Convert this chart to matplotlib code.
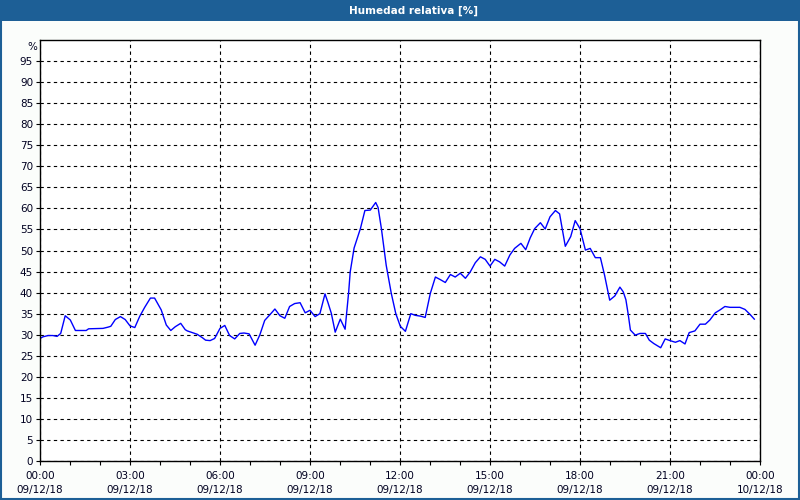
import matplotlib
matplotlib.use('Agg')
import matplotlib.pyplot as plt
from matplotlib.patches import Rectangle
from matplotlib.ticker import MultipleLocator
import matplotlib.transforms as mtransforms

# Hours since 09/12/18 00:00 and relative humidity
hours = [0.0, 0.1, 0.27, 0.43, 0.57, 0.69, 0.84, 1.01, 1.18, 1.54, 1.62, 2.1, 2.27, 2.36,
         2.51, 2.68, 2.84, 3.0, 3.16, 3.32, 3.49, 3.68, 3.82, 4.04, 4.21, 4.36, 4.51, 4.69,
         4.84, 4.91, 5.08, 5.24, 5.41, 5.52, 5.67, 5.82, 6.0, 6.16, 6.32, 6.49, 6.66, 6.8,
         6.97, 7.17, 7.33, 7.49, 7.67, 7.83, 8.0, 8.16, 8.32, 8.49, 8.67, 8.84, 9.0, 9.17,
         9.33, 9.5, 9.6, 9.71, 9.84, 10.01, 10.17, 10.29, 10.34, 10.47, 10.68, 10.83, 11.01,
         11.19, 11.27, 11.38, 11.54, 11.71, 11.86, 12.01, 12.18, 12.36, 12.51, 12.69, 12.84,
         13.01, 13.18, 13.34, 13.51, 13.68, 13.84, 14.01, 14.18, 14.34, 14.51, 14.68, 14.84,
         15.0, 15.16, 15.32, 15.49, 15.66, 15.82, 16.03, 16.19, 16.34, 16.49, 16.68, 16.84,
         17.0, 17.18, 17.32, 17.51, 17.69, 17.84, 18.0, 18.18, 18.34, 18.51, 18.68, 18.82,
         18.99, 19.16, 19.33, 19.44, 19.53, 19.61, 19.68, 19.84, 20.0, 20.18, 20.31, 20.46,
         20.64, 20.69, 20.84, 21.0, 21.18, 21.33, 21.5, 21.64, 21.83, 22.0, 22.18, 22.33,
         22.51, 22.67, 22.83, 23.0, 23.17, 23.33, 23.5, 23.67, 23.81]
humidity = [29.1, 29.5, 29.8, 29.8, 29.6, 30.3, 34.5, 33.5, 31.0, 31.0, 31.4, 31.5, 31.8, 32.0,
            33.6, 34.3, 33.6, 32.1, 31.7, 34.3, 36.5, 38.7, 38.7, 35.9, 32.3, 31.0, 31.9, 32.7,
            31.2, 30.9, 30.5, 30.1, 29.3, 28.7, 28.6, 29.1, 31.5, 32.2, 29.8, 29.0, 30.3, 30.4,
            30.2, 27.5, 30.0, 33.4, 34.8, 36.1, 34.5, 33.9, 36.7, 37.4, 37.6, 35.2, 35.8, 34.3,
            35.0, 39.7, 37.6, 35.1, 30.6, 33.7, 31.3, 40.2, 44.9, 50.6, 55.2, 59.5, 59.6,
            61.4, 60.2, 55.2, 46.5, 39.8, 35.0, 32.0, 30.8, 35.0, 34.6, 34.4, 34.1,
            39.8, 43.7, 43.1, 42.4, 44.3, 43.7, 44.6, 43.4, 44.9, 47.1, 48.5, 47.9,
            46.3, 47.9, 47.3, 46.3, 48.9, 50.5, 51.7, 50.2, 53.0, 55.2, 56.6, 55.1,
            58.0, 59.5, 58.7, 51.0, 53.3, 57.1, 55.2, 50.1, 50.5, 48.3, 48.3, 44.1,
            38.2, 39.2, 41.3, 40.2, 38.3, 34.7, 31.1, 29.9, 30.3, 30.3, 28.7, 27.9,
            27.1, 26.9, 29.0, 28.6, 28.2, 28.6, 27.8, 30.5, 30.9, 32.5, 32.5, 33.5,
            35.2, 35.9, 36.7, 36.5, 36.5, 36.5, 36.0, 34.8, 33.7]

tick_hours = [0, 3, 6, 9, 12, 15, 18, 21, 24]
tick_labels = ['00:00\n09/12/18', '03:00\n09/12/18', '06:00\n09/12/18', '09:00\n09/12/18',
               '12:00\n09/12/18', '15:00\n09/12/18', '18:00\n09/12/18', '21:00\n09/12/18',
               '00:00\n10/12/18']

title_blue = '#1d5f96'

fig = plt.figure(figsize=(8, 5), dpi=100, facecolor='#fbfdfb')
ax = fig.add_axes([40 / 800, 39 / 500, 720 / 800, 421 / 500])

# Title bar and outer frame
fig.patches.append(Rectangle((0, 1 - 21 / 500), 1, 21 / 500, transform=fig.transFigure,
                             facecolor=title_blue, edgecolor='none', zorder=0))
fig.patches.append(Rectangle((0.001, 0.002), 0.998, 0.997, transform=fig.transFigure,
                             facecolor='none', edgecolor=title_blue, linewidth=1.5, zorder=0))
fig.text(414 / 800, 1 - 10.5 / 500, 'Humedad relativa [%]', color='white', fontsize=7.5,
         fontweight='bold', ha='center', va='center')

ax.plot(hours, humidity, color='#0000ff', linewidth=1.0)

ax.set_xlim(0, 24)
ax.set_ylim(0, 100)
ax.set_xticks(tick_hours)
ax.set_xticklabels(tick_labels, linespacing=1.5)
ax.xaxis.set_minor_locator(MultipleLocator(1))
ax.set_yticks(range(0, 100, 5))
ax.tick_params(axis='both', which='both', labelsize=7.5, length=3, width=0.8, color='black',
               labelcolor='#000020', pad=2)
ax.tick_params(axis='x', pad=4)

ax.grid(True, which='major', color='black', linestyle=(0, (3, 3)), linewidth=0.8)
ax.set_axisbelow(True)
for spine in ax.spines.values():
    spine.set_linewidth(1.0)
    spine.set_color('black')

# Unit label above the y tick labels
trans = mtransforms.blended_transform_factory(ax.transAxes, ax.transData)
ax.text(-0.004, 98.4, '%', transform=trans, ha='right', va='center', fontsize=7.5,
        color='#000020')

plt.savefig('out.png', dpi=100, facecolor=fig.get_facecolor())
plt.close()
